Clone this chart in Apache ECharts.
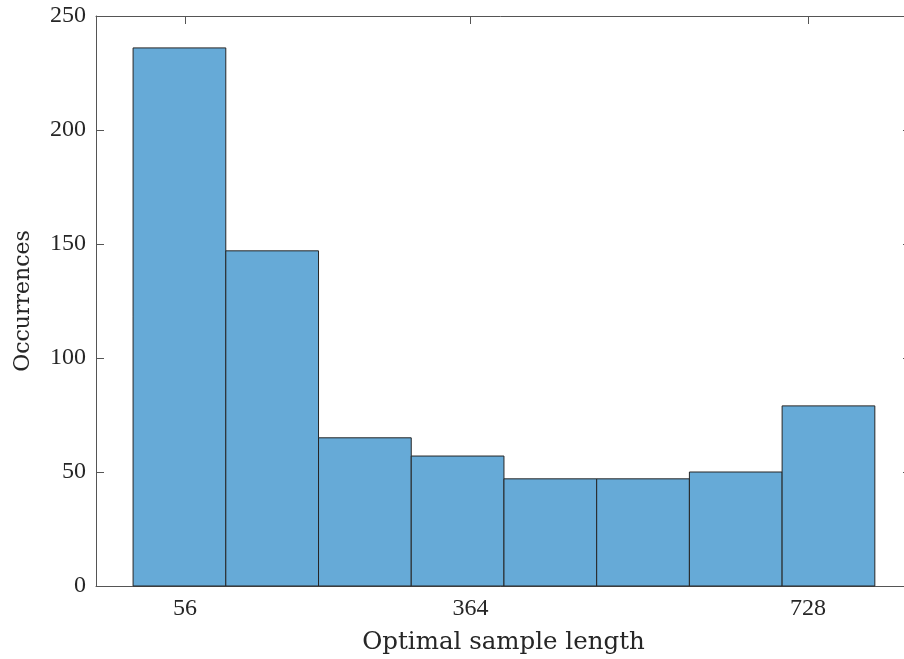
<!DOCTYPE html>
<html>
<head>
<meta charset="utf-8">
<title>Optimal sample length</title>
<script src="https://cdn.jsdelivr.net/npm/echarts@6/dist/echarts.min.js"></script>
<style>
  html, body { margin: 0; padding: 0; background: #fff; }
  #chart { width: 904px; height: 659px; }
</style>
</head>
<body>
<div id="chart"></div>
<script>
// histogram bins (edges) and counts
var binEdges = [0, 100, 200, 300, 400, 500, 600, 700, 800];
var counts = [236, 147, 65, 57, 47, 47, 50, 79];
// tick labels
var xTicks = [56, 364, 728];
var yTicks = [0, 50, 100, 150, 200, 250];

var font = "'Liberation Serif', 'DejaVu Serif', serif";
var nameFont = "'DejaVu Serif', 'Liberation Serif', serif";
var axisCol = "#555555";
var textCol = "#262626";

var barData = counts.map(function (c, i) {
  return [binEdges[i], binEdges[i + 1], c];
});

var chart = echarts.init(document.getElementById("chart"));

// box axes: ticks pointing inward on all four sides
function boxTick(values) {
  var t = { show: true, inside: true, length: 8, lineStyle: { color: axisCol } };
  if (values) t.customValues = values;
  return t;
}

var option = {
  backgroundColor: "#fff",
  animation: false,
  grid: { left: 96, top: 16, width: 815, height: 570, outerBoundsMode: "none", containLabel: false },
  xAxis: [
    {
      type: "value",
      min: -40,
      max: 839,
      position: "bottom",
      splitLine: { show: false },
      axisLine: { onZero: false, lineStyle: { color: axisCol, width: 1 } },
      axisTick: boxTick(xTicks),
      axisLabel: {
        customValues: xTicks,
        margin: 11,
        color: textCol,
        fontFamily: font,
        fontSize: 24
      },
      name: "Optimal sample length",
      nameLocation: "middle",
      nameGap: 44,
      nameTextStyle: { color: textCol, fontFamily: nameFont, fontSize: 24.5 }
    },
    {
      type: "value",
      min: -40,
      max: 839,
      position: "top",
      splitLine: { show: false },
      axisLine: { onZero: false, lineStyle: { color: axisCol, width: 1 } },
      axisTick: boxTick(xTicks),
      axisLabel: { show: false }
    }
  ],
  yAxis: [
    {
      type: "value",
      min: 0,
      max: 250,
      interval: 50,
      position: "left",
      splitLine: { show: false },
      axisLine: { show: true, onZero: false, lineStyle: { color: axisCol, width: 1 } },
      axisTick: boxTick(),
      axisLabel: {
        customValues: yTicks,
        margin: 10,
        color: textCol,
        fontFamily: font,
        fontSize: 24
      },
      name: "Occurrences",
      nameLocation: "middle",
      nameGap: 62,
      nameTextStyle: { color: textCol, fontFamily: nameFont, fontSize: 22 }
    },
    {
      type: "value",
      min: 0,
      max: 250,
      interval: 50,
      position: "right",
      splitLine: { show: false },
      axisLine: { show: true, onZero: false, lineStyle: { color: axisCol, width: 1 } },
      axisTick: boxTick(),
      axisLabel: { show: false }
    }
  ],
  series: [
    {
      type: "custom",
      xAxisIndex: 0,
      yAxisIndex: 0,
      data: barData,
      encode: { x: [0, 1], y: 2 },
      renderItem: function (params, api) {
        var p0 = api.coord([api.value(0), api.value(2)]);
        var p1 = api.coord([api.value(1), 0]);
        return {
          type: "rect",
          shape: { x: p0[0], y: p0[1], width: p1[0] - p0[0], height: p1[1] - p0[1] },
          style: { fill: "#66AAD7", stroke: "#262626", lineWidth: 1 }
        };
      }
    }
  ]
};

window.onresize = chart.resize;
chart.setOption(option);
</script>
</body>
</html>
